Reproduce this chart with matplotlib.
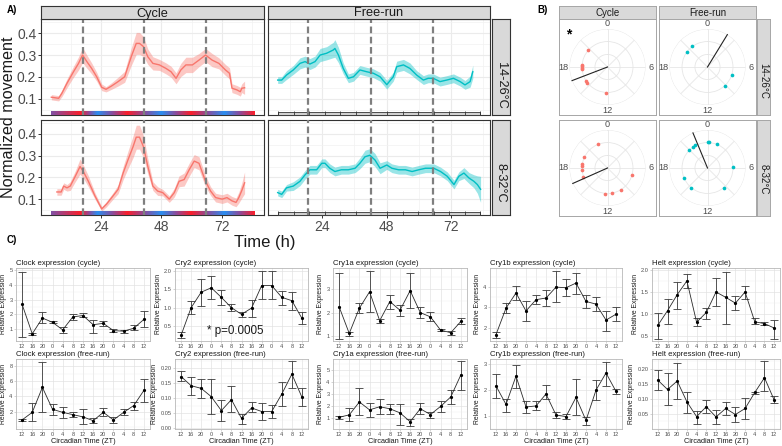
import numpy as np
import matplotlib
matplotlib.use('Agg')
import matplotlib.pyplot as plt
from matplotlib.colors import LinearSegmentedColormap
from matplotlib.ticker import FixedLocator, AutoMinorLocator, FormatStrFormatter

plt.rcParams['font.family'] = ['Liberation Sans', 'DejaVu Sans']

# ------------------------------------------------------------------ data
# Panel A : normalized movement (mean, se) vs time (h)
cyc_1426_t = [4.3, 7.2, 8.5, 10.5, 13.1, 15.1, 16.7, 18.4, 20.3, 22.3, 24.3, 26, 28.2, 30.8, 33.4, 36, 38, 39.3,
              40.9, 42.6, 44.6, 47.2, 49.8, 51.8, 53.8, 55.7, 57.7, 60.3, 62.9, 65.5, 68.1, 70.8, 73.4, 75, 76, 78,
              79.3, 79.9, 81]
cyc_1426_v = [0.108, 0.103, 0.126, 0.171, 0.224, 0.262, 0.30, 0.270, 0.239, 0.201, 0.153, 0.144, 0.159, 0.179,
              0.201, 0.292, 0.353, 0.353, 0.338, 0.292, 0.262, 0.255, 0.239, 0.224, 0.194, 0.232, 0.255, 0.255,
              0.277, 0.30, 0.277, 0.262, 0.232, 0.217, 0.149, 0.141, 0.133, 0.149, 0.151]
cyc_1426_se = [0.012, 0.012, 0.015, 0.02, 0.025, 0.03, 0.035, 0.03, 0.025, 0.02, 0.015, 0.012, 0.015, 0.02, 0.025,
               0.04, 0.05, 0.05, 0.045, 0.035, 0.03, 0.025, 0.025, 0.025, 0.025, 0.03, 0.035, 0.035, 0.03, 0.03,
               0.03, 0.025, 0.025, 0.025, 0.02, 0.02, 0.02, 0.02, 0.03]

cyc_832_t = [6.5, 8.2, 9.2, 10.5, 11.8, 13.8, 15.7, 17, 19, 21.6, 24.3, 26.2, 28.8, 30.8, 32.8, 34.7, 36.7, 38,
             39.3, 40.9, 42.6, 44.6, 46.5, 48.5, 51.1, 53.1, 55, 57, 59, 61, 62.9, 65.5, 67.5, 69.5, 72.1, 74, 76,
             77.6, 78.7, 79.9, 81]
cyc_832_v = [0.133, 0.133, 0.16, 0.152, 0.16, 0.205, 0.25, 0.227, 0.182, 0.115, 0.055, 0.077, 0.115, 0.145, 0.22,
             0.28, 0.34, 0.385, 0.385, 0.34, 0.25, 0.16, 0.137, 0.13, 0.10, 0.13, 0.182, 0.19, 0.235, 0.275, 0.265,
             0.182, 0.137, 0.107, 0.10, 0.107, 0.092, 0.085, 0.107, 0.14, 0.175]
cyc_832_se = [0.015, 0.015, 0.015, 0.015, 0.02, 0.025, 0.035, 0.03, 0.025, 0.015, 0.01, 0.012, 0.015, 0.02, 0.03,
              0.04, 0.05, 0.055, 0.055, 0.05, 0.035, 0.02, 0.02, 0.015, 0.015, 0.02, 0.025, 0.03, 0.03, 0.03, 0.03,
              0.025, 0.02, 0.02, 0.02, 0.02, 0.02, 0.02, 0.025, 0.035, 0.05]

fr_1426_t = [7.5, 9, 10.8, 13.3, 15.8, 17.7, 19.5, 21.4, 23.3, 25.7, 28.2, 28.8, 30.1, 31.9, 33.8, 35.7, 38.1, 40.6,
             43.1, 45.6, 48.1, 50.5, 51.8, 54.3, 56.7, 59.2, 61.7, 63.5, 65.4, 67.9, 70.4, 72.9, 75.4, 77.2, 79.1, 80.1]
fr_1426_v = [0.186, 0.186, 0.209, 0.232, 0.262, 0.27, 0.259, 0.27, 0.30, 0.308, 0.323, 0.330, 0.30, 0.239, 0.194,
             0.201, 0.232, 0.224, 0.217, 0.201, 0.165, 0.201, 0.247, 0.255, 0.239, 0.209, 0.186, 0.194, 0.194, 0.179,
             0.186, 0.194, 0.179, 0.164, 0.179, 0.224]
fr_1426_se = [0.015, 0.015, 0.02, 0.02, 0.025, 0.025, 0.025, 0.025, 0.03, 0.03, 0.035, 0.04, 0.035, 0.025, 0.02,
              0.02, 0.02, 0.02, 0.02, 0.02, 0.02, 0.02, 0.025, 0.025, 0.025, 0.02, 0.02, 0.02, 0.02, 0.02, 0.02, 0.02,
              0.02, 0.02, 0.025, 0.03]

fr_832_t = [7.5, 9, 10.8, 13.3, 15.8, 17.7, 19.5, 22, 23.9, 25.1, 26.9, 28.8, 31.2, 33.8, 36.3, 38.1, 40, 41.8, 43.7,
            45.6, 48.1, 50, 52.5, 55, 57.5, 60, 62.5, 65.6, 68.1, 70.6, 73.1, 74.9, 76.8, 78.7, 80.5, 81.8, 83]
fr_832_v = [0.13, 0.122, 0.152, 0.16, 0.182, 0.212, 0.235, 0.235, 0.265, 0.265, 0.242, 0.227, 0.235, 0.235, 0.242,
            0.265, 0.295, 0.302, 0.28, 0.242, 0.257, 0.242, 0.235, 0.235, 0.227, 0.235, 0.242, 0.242, 0.227, 0.205,
            0.167, 0.205, 0.22, 0.197, 0.182, 0.167, 0.145]
fr_832_se = [0.015, 0.015, 0.015, 0.02, 0.02, 0.02, 0.02, 0.02, 0.02, 0.02, 0.02, 0.02, 0.02, 0.02, 0.02, 0.025,
             0.03, 0.03, 0.03, 0.025, 0.02, 0.02, 0.02, 0.02, 0.02, 0.02, 0.02, 0.02, 0.02, 0.02, 0.02, 0.02, 0.025,
             0.025, 0.03, 0.04, 0.06]

a_cols = ['Cycle', 'Free-run']
a_rows = ['14-26°C', '8-32°C']
a_vlines = [[16.7, 41.0, 65.6], [18.8, 42.2, 65.3]]
# temperature cycle key points (1 = warm, 0 = cold) for the coloured bar
temp_key_t = [4.0, 15.7, 22.4, 34.2, 47.6, 59.3, 72.6, 84.6]
temp_key_v = [0.45, 1.0, 0.0, 1.0, 0.0, 1.0, 0.0, 1.0]
fr_bar_ticks = [7.6, 13.4, 19.2, 25.0, 30.8, 36.6, 42.4, 48.2, 54.0, 59.8, 65.6, 71.4, 77.2, 82.8]

# Panel B : phases (h) of individual fish and mean vector
b_pts = {
    (0, 0): [20.75, 17.7, 17.9, 18.1, 18.3, 15.8, 15.5, 12.25],
    (0, 1): [20.4, 21.5, 7.27, 9.2],
    (1, 0): [22.5, 19.7, 18.6, 18.3, 17.7, 16.7, 7.1, 9.9, 11.3, 12.4],
    (1, 1): [0.0, 0.2, 1.45, 21.75, 22.07, 20.9, 5.87, 16.5, 14.7, 9.3],
}
b_mean_phase = {(0, 0): 16.6, (0, 1): 2.1, (1, 0): 16.4, (1, 1): 22.5}
b_mean_len = {(0, 0): 1.0, (0, 1): 1.0, (1, 0): 1.0, (1, 1): 1.0}

# Panel C : relative expression (mean, lower, upper)
zt_labels = ['12', '16', '20', '0', '4', '8', '12', '16', '20', '0', '4', '8', '12']

clock_cyc_mean = [2.69, 0.69, 1.76, 1.47, 0.96, 1.84, 1.93, 1.31, 1.40, 0.91, 0.87, 1.07, 1.67]
clock_cyc_lo = [0.51, 0.62, 1.40, 1.40, 0.73, 1.62, 1.80, 0.78, 1.24, 0.80, 0.73, 0.96, 1.13]
clock_cyc_hi = [4.87, 0.73, 2.20, 1.53, 1.18, 2.02, 2.11, 1.64, 1.58, 1.04, 0.96, 1.27, 2.24]
clock_fr_mean = [0.9, 1.9, 5.2, 2.3, 1.9, 1.6, 1.3, 0.8, 1.9, 0.9, 1.9, 2.8, 4.8]
clock_fr_lo = [0.75, 0.8, 2.0, 1.6, 1.2, 1.25, 0.3, 0.5, 1.4, 0.5, 1.5, 2.2, 3.3]
clock_fr_hi = [1.05, 3.1, 8.5, 3.0, 2.6, 1.95, 2.3, 1.1, 2.5, 1.3, 2.4, 3.3, 6.3]

cry2_cyc_mean = [0.25, 1.00, 1.42, 1.54, 1.28, 1.00, 0.82, 0.99, 1.60, 1.60, 1.28, 1.19, 0.71]
cry2_cyc_lo = [0.18, 0.82, 1.05, 1.24, 1.07, 0.91, 0.76, 0.75, 1.24, 1.24, 1.08, 0.94, 0.55]
cry2_cyc_hi = [0.34, 1.19, 1.79, 1.87, 1.48, 1.10, 0.89, 1.21, 2.00, 2.00, 1.44, 1.42, 0.89]
cry2_fr_mean = [0.173, 0.142, 0.133, 0.105, 0.058, 0.095, 0.032, 0.067, 0.055, 0.055, 0.114, 0.181, 0.103]
cry2_fr_lo = [0.159, 0.111, 0.100, 0.047, 0.022, 0.053, 0.013, 0.053, 0.027, 0.032, 0.075, 0.133, 0.073]
cry2_fr_hi = [0.192, 0.173, 0.164, 0.164, 0.095, 0.140, 0.047, 0.086, 0.083, 0.078, 0.156, 0.226, 0.134]

cry1a_cyc_mean = [2.25, 1.12, 2.19, 2.88, 1.66, 2.47, 2.10, 2.93, 2.00, 1.82, 1.26, 1.15, 1.63]
cry1a_cyc_lo = [0.87, 1.01, 2.00, 2.04, 1.56, 2.15, 1.85, 2.19, 1.78, 1.63, 1.24, 1.04, 1.51]
cry1a_cyc_hi = [3.66, 1.19, 2.40, 3.76, 1.74, 2.76, 2.32, 3.66, 2.22, 2.04, 1.29, 1.22, 1.78]
cry1a_fr_mean = [1.03, 1.23, 2.31, 1.65, 1.91, 1.74, 1.40, 0.66, 1.74, 1.26, 1.94, 2.73, 4.58]
cry1a_fr_lo = [0.89, 0.74, 1.23, 1.03, 1.31, 1.31, 0.37, 0.32, 1.31, 0.97, 1.45, 2.16, 3.30]
cry1a_fr_hi = [1.11, 1.80, 3.44, 2.25, 2.53, 2.16, 2.16, 0.89, 2.25, 1.51, 2.39, 3.30, 5.77]

cry1b_cyc_mean = [1.65, 2.96, 3.71, 2.82, 3.38, 3.46, 4.00, 3.97, 4.20, 3.29, 3.16, 2.37, 2.66]
cry1b_cyc_lo = [1.48, 2.71, 3.38, 2.32, 3.16, 3.08, 3.24, 3.55, 3.66, 2.96, 2.84, 1.82, 2.32]
cry1b_cyc_hi = [1.78, 3.21, 4.05, 3.33, 3.60, 3.85, 4.81, 4.42, 4.72, 3.63, 3.51, 2.84, 3.00]
cry1b_fr_mean = [2.16, 1.45, 2.54, 1.35, 1.39, 1.85, 1.04, 0.98, 1.72, 0.83, 2.00, 2.66, 1.95]
cry1b_fr_lo = [1.70, 1.15, 2.10, 1.10, 1.22, 1.66, 0.94, 0.89, 1.03, 0.66, 1.60, 2.16, 1.86]
cry1b_fr_hi = [2.63, 1.65, 2.95, 1.57, 1.57, 2.19, 1.14, 1.07, 2.43, 0.95, 2.38, 3.10, 2.03]

helt_cyc_mean = [0.75, 1.08, 1.44, 1.75, 0.82, 1.04, 1.50, 1.38, 1.25, 1.50, 0.83, 0.79, 0.69]
helt_cyc_lo = [0.45, 0.78, 1.12, 1.58, 0.73, 0.90, 1.19, 0.79, 1.10, 1.35, 0.79, 0.76, 0.44]
helt_cyc_hi = [1.02, 1.35, 1.73, 1.90, 0.92, 1.15, 1.81, 1.96, 1.41, 1.64, 0.91, 0.82, 0.88]
helt_fr_mean = [0.162, 0.131, 0.159, 0.090, 0.041, 0.074, 0.040, 0.068, 0.048, 0.068, 0.121, 0.170, 0.096]
helt_fr_lo = [0.130, 0.079, 0.100, 0.054, 0.016, 0.054, 0.016, 0.045, 0.024, 0.034, 0.117, 0.126, 0.087]
helt_fr_hi = [0.196, 0.185, 0.220, 0.123, 0.060, 0.095, 0.063, 0.091, 0.073, 0.102, 0.124, 0.226, 0.109]

genes = ['Clock', 'Cry2', 'Cry1a', 'Cry1b', 'Helt']

# ------------------------------------------------------------------ figure
W, H = 782, 446
fig = plt.figure(figsize=(W / 100, H / 100), dpi=100)


def px_axes(x0, y0, x1, y1, **kw):
    return fig.add_axes([x0 / W, 1 - y1 / H, (x1 - x0) / W, (y1 - y0) / H], **kw)


def strip(x0, y0, x1, y1, text, size, rot=0, fc='#D9D9D9', ec='#333333', lw=0.8, tc='#1A1A1A'):
    s = px_axes(x0, y0, x1, y1)
    s.set_facecolor(fc)
    s.set_xticks([]); s.set_yticks([])
    for sp in s.spines.values():
        sp.set_color(ec); sp.set_linewidth(lw)
    s.text(0.5, 0.5, text, ha='center', va='center_baseline', rotation=rot, fontsize=size, color=tc,
           transform=s.transAxes)
    return s


RED = '#F8766D'
TEAL = '#00BFC4'

# ------------------------------------------------------------------ Panel A
a_series = {
    (0, 0): (cyc_1426_t, cyc_1426_v, cyc_1426_se),
    (1, 0): (cyc_832_t, cyc_832_v, cyc_832_se),
    (0, 1): (fr_1426_t, fr_1426_v, fr_1426_se),
    (1, 1): (fr_832_t, fr_832_v, fr_832_se),
}
a_colx = [(41, 264), (268, 490)]
a_rowy = [(19, 115), (120, 215)]
a_xlims = [(0.2, 88.7), (3.9, 86.5)]
a_ylim = (0.027, 0.464)
temp_cmap = LinearSegmentedColormap.from_list('temp', ['#2B8EF0', '#8A4C9C', '#FA1E2A'])

for i in range(2):
    for j in range(2):
        x0, x1 = a_colx[j]
        y0, y1 = a_rowy[i]
        ax = px_axes(x0, y0, x1, y1)
        t, v, se = a_series[(i, j)]
        t = np.array(t); v = np.array(v); se = np.array(se)
        col = RED if j == 0 else TEAL
        ax.fill_between(t, v - se, v + se, color=col, alpha=0.4, lw=0, zorder=2)
        ax.plot(t, v, color=col, lw=1.0, zorder=3)
        for xv in a_vlines[j]:
            ax.axvline(xv, color='#7F7F7F', lw=1.6, ls=(0, (3, 1.6)), zorder=5)
        if j == 0:
            xs = np.linspace(temp_key_t[0], temp_key_t[-1], 400)
            temp = np.interp(xs, temp_key_t, temp_key_v)
            ax.imshow(temp[np.newaxis, :], cmap=temp_cmap, aspect='auto',
                      extent=[temp_key_t[0], temp_key_t[-1], 0.029, 0.043], zorder=4, vmin=0, vmax=1)
        else:
            ax.fill_between([fr_bar_ticks[0], fr_bar_ticks[-1]], 0.029, 0.040, color='#CFCFCF',
                            edgecolor='#333333', lw=0.6, zorder=4)
            ax.vlines(fr_bar_ticks, 0.029, 0.045, color='#333333', lw=0.6, zorder=4)
        ax.set_xlim(*a_xlims[j])
        ax.set_ylim(*a_ylim)
        ax.xaxis.set_major_locator(FixedLocator([24, 48, 72]))
        ax.xaxis.set_minor_locator(FixedLocator([12, 36, 60, 84]))
        ax.yaxis.set_major_locator(FixedLocator([0.1, 0.2, 0.3, 0.4]))
        ax.yaxis.set_minor_locator(FixedLocator([0.05, 0.15, 0.25, 0.35, 0.45]))
        ax.grid(True, which='major', color='#EBEBEB', lw=0.8, zorder=0)
        ax.grid(True, which='minor', color='#F2F2F2', lw=0.5, zorder=0)
        ax.set_axisbelow(True)
        for sp in ax.spines.values():
            sp.set_color('#333333'); sp.set_linewidth(0.8)
        ax.tick_params(which='both', length=0)
        ax.tick_params(which='major', length=2.2, color='#333333', width=0.7, labelsize=10,
                       labelcolor='#4D4D4D', pad=1.2)
        if j != 0:
            ax.set_yticklabels([])
            ax.tick_params(axis='y', which='major', length=0)
        else:
            ax.yaxis.set_major_formatter(FormatStrFormatter('%.1f'))
        if i != 1:
            ax.set_xticklabels([])
            ax.tick_params(axis='x', which='major', length=0)
        else:
            ax.set_xticklabels(['24', '48', '72'])

for j, name in enumerate(a_cols):
    strip(a_colx[j][0], 5.5, a_colx[j][1], 18.5, name, 9.2)
for i, name in enumerate(a_rows):
    strip(492, a_rowy[i][0], 510, a_rowy[i][1], name, 9.2, rot=-90)

fig.text(8.5 / W, 1 - 117 / H, 'Normalized movement', rotation=90, ha='center', va='center', fontsize=11.6,
         color='#1A1A1A')
fig.text(265 / W, 1 - 242 / H, 'Time (h)', ha='center', va='center', fontsize=12, color='#1A1A1A')
fig.text(7 / W, 1 - 10 / H, 'A)', ha='left', va='center', fontsize=7, fontweight='bold')

# ------------------------------------------------------------------ Panel B
b_colx = [(559, 656), (659, 756)]
b_rowy = [(19, 115), (120, 216)]
R = 38.0
for i in range(2):
    for j in range(2):
        x0, x1 = b_colx[j]
        y0, y1 = b_rowy[i]
        frame = px_axes(x0, y0, x1, y1)
        frame.set_xticks([]); frame.set_yticks([])
        for sp in frame.spines.values():
            sp.set_color('#A6A6A6'); sp.set_linewidth(0.7)
        cx = (x0 + x1) / 2.0
        cy = (y0 + y1) / 2.0
        pax = px_axes(cx - R, cy - R, cx + R, cy + R, projection='polar')
        pax.set_facecolor('none')
        pax.set_theta_zero_location('N')
        pax.set_theta_direction(-1)
        pax.set_ylim(0, 1.0)
        pax.set_xticks(np.deg2rad(np.arange(0, 360, 45)))
        pax.set_xticklabels([])
        pax.set_yticks([0.33, 0.67, 1.0])
        pax.set_yticklabels([])
        pax.grid(True, color='#E6E6E6', lw=0.6)
        pax.spines['polar'].set_visible(False)
        col = RED if j == 0 else TEAL
        hrs = np.array(b_pts[(i, j)])
        pax.scatter(hrs / 24.0 * 2 * np.pi, np.full(len(hrs), 0.68), s=7, color=col, zorder=3,
                    linewidths=0, clip_on=False)
        mp = b_mean_phase[(i, j)] / 24.0 * 2 * np.pi
        pax.plot([mp, mp], [0, b_mean_len[(i, j)]], color='#222222', lw=0.8, zorder=4, clip_on=False)
        for hh, lab in zip([0, 6, 12, 18], ['0', '6', '12', '18']):
            pax.text(hh / 24.0 * 2 * np.pi, 1.15, lab, ha='center', va='center', fontsize=6.6,
                     color='#4D4D4D', clip_on=False)

for j, name in enumerate(a_cols):
    strip(b_colx[j][0], 5.5, b_colx[j][1], 18.5, name, 7, ec='#A6A6A6', lw=0.7)
for i, name in enumerate(a_rows):
    strip(757, b_rowy[i][0], 770, b_rowy[i][1], name, 7, rot=-90, ec='#A6A6A6', lw=0.7)
fig.text(569 / W, 1 - 34 / H, '*', ha='center', va='center', fontsize=10, fontweight='bold')
fig.text(537 / W, 1 - 10 / H, 'B)', ha='left', va='center', fontsize=7, fontweight='bold')

# ------------------------------------------------------------------ Panel C
fig.text(7 / W, 1 - 240 / H, 'C)', ha='left', va='center', fontsize=7, fontweight='bold')

c_data = {
    ('Clock', 0): (clock_cyc_mean, clock_cyc_lo, clock_cyc_hi),
    ('Clock', 1): (clock_fr_mean, clock_fr_lo, clock_fr_hi),
    ('Cry2', 0): (cry2_cyc_mean, cry2_cyc_lo, cry2_cyc_hi),
    ('Cry2', 1): (cry2_fr_mean, cry2_fr_lo, cry2_fr_hi),
    ('Cry1a', 0): (cry1a_cyc_mean, cry1a_cyc_lo, cry1a_cyc_hi),
    ('Cry1a', 1): (cry1a_fr_mean, cry1a_fr_lo, cry1a_fr_hi),
    ('Cry1b', 0): (cry1b_cyc_mean, cry1b_cyc_lo, cry1b_cyc_hi),
    ('Cry1b', 1): (cry1b_fr_mean, cry1b_fr_lo, cry1b_fr_hi),
    ('Helt', 0): (helt_cyc_mean, helt_cyc_lo, helt_cyc_hi),
    ('Helt', 1): (helt_fr_mean, helt_fr_lo, helt_fr_hi),
}
c_ylims = {
    ('Clock', 0): (0.24, 5.18), ('Clock', 1): (-0.3, 8.95),
    ('Cry2', 0): (0.11, 2.09), ('Cry2', 1): (-0.004, 0.232),
    ('Cry1a', 0): (0.82, 3.91), ('Cry1a', 1): (0.05, 5.9),
    ('Cry1b', 0): (1.36, 4.97), ('Cry1b', 1): (0.5, 3.2),
    ('Helt', 0): (0.41, 2.05), ('Helt', 1): (0.0, 0.232),
}
c_yticks = {
    ('Clock', 0): [1, 2, 3, 4, 5], ('Clock', 1): [2, 4, 6, 8],
    ('Cry2', 0): [0.5, 1.0, 1.5, 2.0], ('Cry2', 1): [0.0, 0.05, 0.10, 0.15, 0.20],
    ('Cry1a', 0): [1, 2, 3], ('Cry1a', 1): [1, 2, 3, 4, 5],
    ('Cry1b', 0): [2, 3, 4], ('Cry1b', 1): [1, 2, 3],
    ('Helt', 0): [0.5, 1.0, 1.5, 2.0], ('Helt', 1): [0.05, 0.10, 0.15, 0.20],
}
c_fmt = {'Clock': ['%d', '%d'], 'Cry2': ['%.1f', '%.2f'], 'Cry1a': ['%d', '%d'], 'Cry1b': ['%d', '%d'],
         'Helt': ['%.1f', '%.2f']}
c_colx = [(16, 150), (175, 308), (333, 467), (490, 622), (652, 780)]
c_rowy = [(267.5, 340.5), (359, 429)]
cond_names = ['cycle', 'free-run']
xcat = np.arange(1, 14)

for gi, g in enumerate(genes):
    for r in range(2):
        x0, x1 = c_colx[gi]
        y0, y1 = c_rowy[r]
        ax = px_axes(x0, y0, x1, y1)
        m, lo, hi = (np.array(a) for a in c_data[(g, r)])
        ax.errorbar(xcat, m, yerr=[m - lo, hi - m], fmt='none', ecolor='#3A3A3A', elinewidth=0.6,
                    capsize=2.6, capthick=0.6, zorder=3)
        ax.plot(xcat, m, color='#2A2A2A', lw=0.6, zorder=4)
        ax.plot(xcat, m, 'o', ms=1.3, color='black', zorder=5)
        ax.set_xlim(0.4, 13.6)
        ax.set_ylim(*c_ylims[(g, r)])
        ax.set_xticks(xcat)
        ax.set_xticklabels(zt_labels)
        ax.yaxis.set_major_locator(FixedLocator(c_yticks[(g, r)]))
        ax.yaxis.set_minor_locator(AutoMinorLocator(2))
        ax.yaxis.set_major_formatter(FormatStrFormatter(c_fmt[g][r]))
        ax.grid(True, which='major', color='#E0E0E0', lw=0.45, zorder=0)
        ax.grid(True, which='minor', axis='y', color='#EEEEEE', lw=0.3, zorder=0)
        ax.set_axisbelow(True)
        for sp in ax.spines.values():
            sp.set_color('#B8B8B8'); sp.set_linewidth(0.6)
        ax.tick_params(which='major', length=1.5, width=0.4, color='#B3B3B3', labelsize=4.1,
                       labelcolor='#4D4D4D', pad=1.0)
        ax.tick_params(which='minor', length=0)
        ax.set_ylabel('Relative Expression', fontsize=4.9, labelpad=1.5, color='#1A1A1A')
        ax.set_title('%s expression (%s)' % (g, cond_names[r]), loc='left', fontsize=5.6, pad=2,
                     color='#1A1A1A')
        if r == 1:
            ax.set_xlabel('Circadian Time (ZT)', fontsize=5.3, labelpad=0.5, color='#1A1A1A')
        if g == 'Cry2' and r == 0:
            ax.text(3.6, 0.37, '* p=0.0005', fontsize=8.4, va='center', ha='left', color='#1A1A1A')

fig.savefig('out.png', dpi=100)
